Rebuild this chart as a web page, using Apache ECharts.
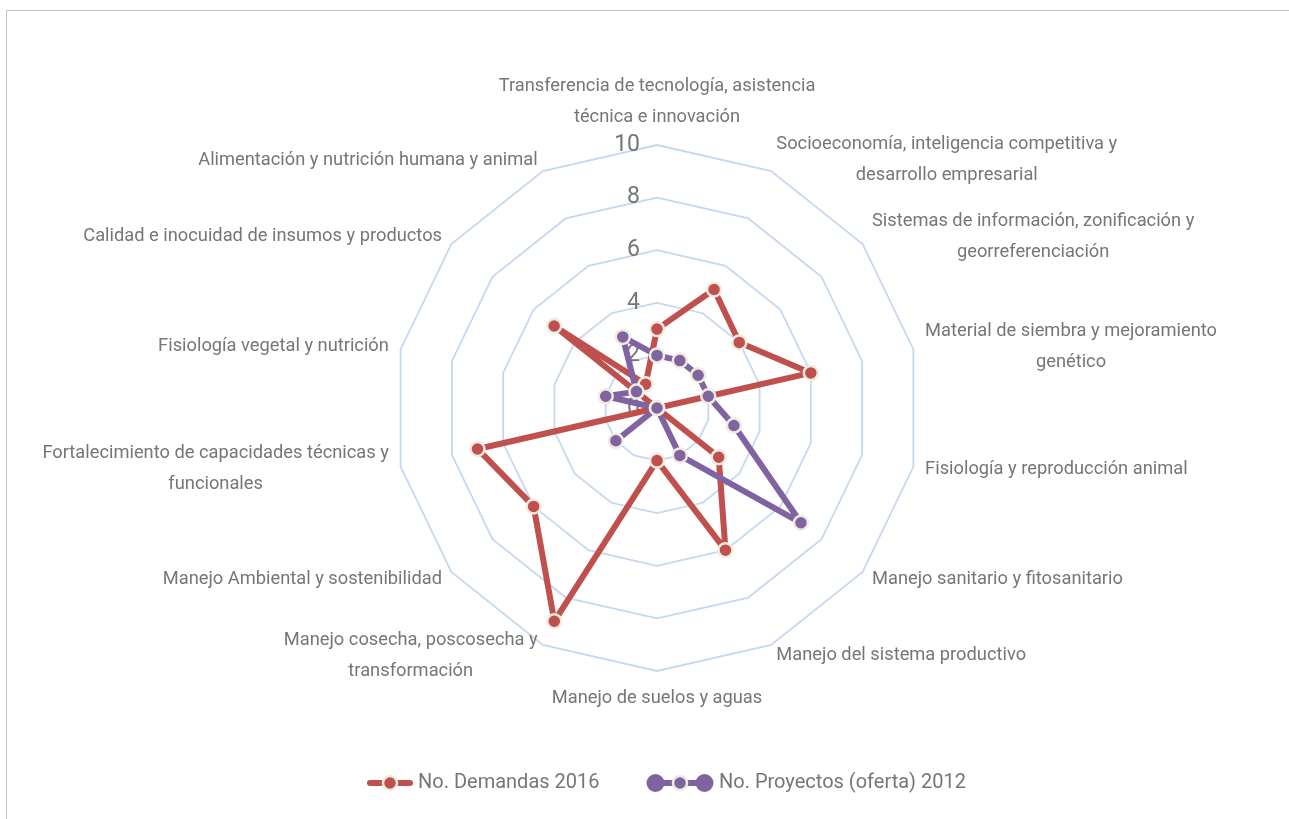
<!DOCTYPE html>
<html>
<head>
<meta charset="utf-8">
<script src="https://cdn.jsdelivr.net/npm/echarts@6/dist/echarts.min.js"></script>
<style>
html,body{margin:0;padding:0;background:#fff;}
#frame{position:absolute;left:6px;top:10px;width:1400px;height:900px;border-left:1px solid #c6c6c6;border-top:1px solid #c6c6c6;}
#chart{position:absolute;left:0;top:0;width:1289px;height:819px;}
</style>
</head>
<body>
<div id="frame"></div>
<div id="chart"></div>
<script>
// Categories listed clockwise from the top
const categories = [
  "Transferencia de tecnología, asistencia\ntécnica e innovación",
  "Socioeconomía, inteligencia competitiva y\ndesarrollo empresarial",
  "Sistemas de información, zonificación y\ngeorreferenciación",
  "Material de siembra y mejoramiento\ngenético",
  "Fisiología y reproducción animal",
  "Manejo sanitario y fitosanitario",
  "Manejo del sistema productivo",
  "Manejo de suelos y aguas",
  "Manejo cosecha, poscosecha y\ntransformación",
  "Manejo Ambiental y sostenibilidad",
  "Fortalecimiento de capacidades técnicas y\nfuncionales",
  "Fisiología vegetal y nutrición",
  "Calidad e inocuidad de insumos y productos",
  "Alimentación y nutrición humana y animal"
];
const demandas2016 = [3, 5, 4, 6, 0, 3, 6, 2, 9, 6, 7, 0, 5, 1];
const proyectos2012 = [2, 2, 2, 2, 3, 7, 2, 0, 0, 2, 0, 2, 1, 3];
const seriesNames = ["No. Demandas 2016", "No. Proyectos (oferta) 2012"];
const axisMax = 10;

// ECharts radar runs counter-clockwise; reorder so the chart reads clockwise
const order = [0];
for (let i = categories.length - 1; i >= 1; i--) order.push(i);
const pick = arr => order.map(i => arr[i]);

const FONT = 'Roboto, "Noto Sans", sans-serif';
const GREY = '#767676';
const RED = '#c0504d';
const PURPLE = '#8064a2';
const RIM = '#efebdf';
const NAME_SIZE = 18.3;

function svgIcon(svg) {
  return 'image://data:image/svg+xml;charset=utf-8,' + encodeURIComponent(svg);
}
const redIcon = svgIcon(
  '<svg xmlns="http://www.w3.org/2000/svg" width="46" height="20" viewBox="0 0 46 20">' +
  '<line x1="3" y1="10" x2="43" y2="10" stroke="' + RED + '" stroke-width="6" stroke-linecap="round"/>' +
  '<circle cx="23" cy="10" r="7" fill="' + RED + '" stroke="' + RIM + '" stroke-width="2.5"/></svg>');
const purpleIcon = svgIcon(
  '<svg xmlns="http://www.w3.org/2000/svg" width="68" height="20" viewBox="0 0 68 20">' +
  '<line x1="9" y1="10" x2="59" y2="10" stroke="' + PURPLE + '" stroke-width="6"/>' +
  '<circle cx="9.5" cy="10" r="9" fill="' + PURPLE + '"/>' +
  '<circle cx="58.5" cy="10" r="9" fill="' + PURPLE + '"/>' +
  '<circle cx="34" cy="10" r="7" fill="' + PURPLE + '" stroke="' + RIM + '" stroke-width="2.5"/></svg>');

const indicators = order.map((i, k) => {
  const ind = { name: categories[i], min: 0, max: axisMax };
  if (k === 0) {
    ind.axisLabel = { show: true, color: GREY, fontSize: 23, fontFamily: FONT, margin: 17, showMinLabel: true, showMaxLabel: true };
  }
  return ind;
});

const legendText = { color: GREY, fontSize: 20, fontFamily: FONT };

const chart = echarts.init(document.getElementById('chart'));
chart.setOption({
  backgroundColor: 'transparent',
  animation: false,
  textStyle: { fontFamily: FONT },
  legend: [
    {
      top: 773, left: 367, itemWidth: 46, itemHeight: 20, itemGap: 4, padding: 0,
      textStyle: legendText,
      data: [{ name: seriesNames[0], icon: redIcon }]
    },
    {
      top: 773, left: 646, itemWidth: 68, itemHeight: 20, itemGap: 4, padding: 0,
      textStyle: legendText,
      data: [{ name: seriesNames[1], icon: purpleIcon }]
    }
  ],
  radar: {
    center: [657, 408],
    radius: 263,
    startAngle: 90,
    splitNumber: 5,
    shape: 'polygon',
    nameGap: 12,
    axisName: {
      color: GREY,
      fontSize: NAME_SIZE,
      fontFamily: FONT,
      lineHeight: 31,
      formatter: function (v) {
        return v.split('\n').map(s => '{c|' + s + '}').join('\n');
      },
      rich: { c: { align: 'center', color: GREY, fontSize: NAME_SIZE, fontFamily: FONT, lineHeight: 31 } }
    },
    axisLine: { show: false },
    axisTick: { show: false },
    axisLabel: { show: false },
    splitLine: { lineStyle: { color: '#c5d8ef', width: 1.8 } },
    splitArea: { show: false },
    indicator: indicators
  },
  series: [
    {
      type: 'radar',
      name: seriesNames[0],
      symbol: 'circle',
      symbolSize: 14,
      z: 2,
      lineStyle: { color: RED, width: 6 },
      itemStyle: { color: RED, borderColor: RIM, borderWidth: 2.5 },
      data: [{ name: seriesNames[0], value: pick(demandas2016) }]
    },
    {
      type: 'radar',
      name: seriesNames[1],
      symbol: 'circle',
      symbolSize: 14,
      z: 3,
      lineStyle: { color: PURPLE, width: 6 },
      itemStyle: { color: PURPLE, borderColor: RIM, borderWidth: 2.5 },
      data: [{ name: seriesNames[1], value: pick(proyectos2012) }]
    }
  ]
});
</script>
</body>
</html>
